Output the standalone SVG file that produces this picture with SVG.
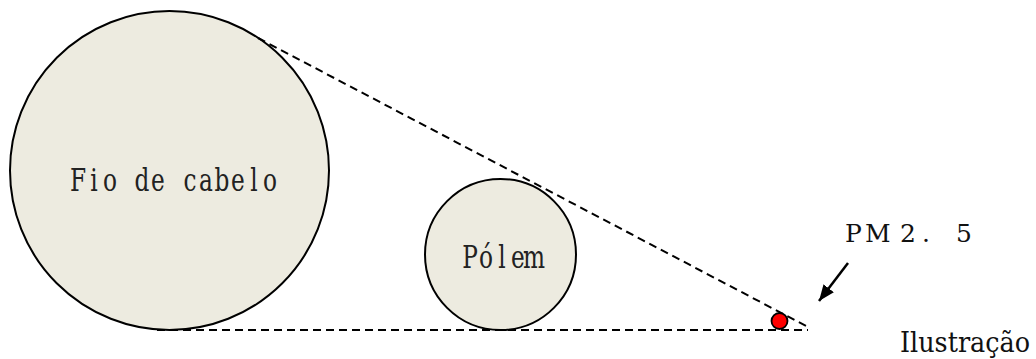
<svg xmlns="http://www.w3.org/2000/svg" width="1036" height="359" viewBox="0 0 1036 359">
<style>
.particle{fill:#EDEBE0;stroke:#000;stroke-width:2}
.dash{fill:none;stroke:#000;stroke-width:2;stroke-dasharray:8 5}
.label{font-family:"DejaVu Serif",serif;font-size:31px;fill:#222;text-anchor:middle}
.serif{font-family:"DejaVu Serif",serif;fill:#111}
</style>
<defs>
<marker id="ah" markerUnits="userSpaceOnUse" markerWidth="18" markerHeight="14" refX="16" refY="6.5" orient="auto">
<polygon points="0,0 16,6.5 0,13" fill="#000"/>
</marker>
</defs>
<rect width="1036" height="359" fill="#fff"/>
<g id="hair">
<circle class="particle" cx="169.5" cy="170.5" r="159.5"/>
<text class="label" transform="scale(0.75,1)" x="104 125.33 146.67 168 189.33 210.67 232 253.33 274.67 296 317.33 338.67 360" y="191">Fio de cabelo</text>
</g>
<g id="pollen">
<circle class="particle" cx="500.5" cy="254.5" r="75.5"/>
<text class="label" font-size="30" transform="scale(0.75,1)" x="626.67 648 669.33 690.67 712" y="268">Pólem</text>
</g>
<g id="connectors">
<line class="dash" x1="258" y1="38" x2="808" y2="327"/>
<line class="dash" x1="157" y1="330" x2="808" y2="330"/>
<line x1="848" y1="263" x2="819" y2="301" stroke="#000" stroke-width="2.5" marker-end="url(#ah)"/>
</g>
<g id="pm25">
<circle cx="779.5" cy="321" r="8" fill="#FF0000" stroke="#000" stroke-width="1.8"/>
<text class="serif" font-size="25" x="845 865 900 922 930 956" y="242">PM2. 5</text>
</g>
<g id="caption">
<text class="serif" font-size="27" x="900" y="352" textLength="130" lengthAdjust="spacingAndGlyphs">Ilustração</text>
</g>
</svg>
